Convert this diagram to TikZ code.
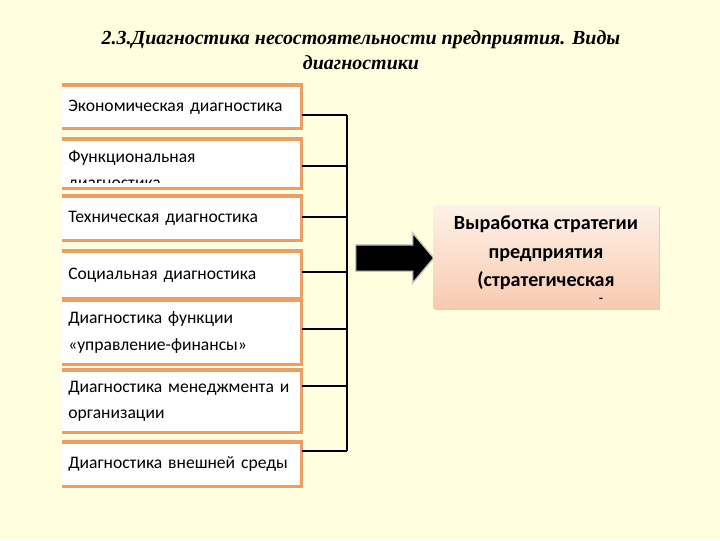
\documentclass[tikz,border=0pt]{standalone}
\usepackage{fontspec}
\setmainfont{Carlito}
\newfontfamily\titlefont{Liberation Serif}
\usetikzlibrary{positioning,shapes.arrows,shadows}

\definecolor{bgcream}{RGB}{255,255,224}
\definecolor{boxorange}{RGB}{238,158,98}
\definecolor{peachtop}{RGB}{253,242,232}
\definecolor{peachbot}{RGB}{249,202,176}

\begin{document}
\begin{tikzpicture}[x=0.025cm,y=-0.025cm,
    kind/.style={fill=white, anchor=north west, minimum width=5.98cm, text width=5.68cm,
      align=left, inner xsep=0.15cm, font=\fontsize{12.5}{19}\selectfont},
    rim/.style={boxorange, line width=2.2pt},
    link/.style={black, line width=0.8pt}]
    \fill[bgcream] (0,0) rectangle (720,540);
    \node[font=\titlefont\bfseries\itshape\fontsize{14.2}{17.5}\selectfont, align=center] (title) at (361,50)
        {2.3.Диагностика несостоятельности предприятия. Виды\\диагностики};

    % kinds of diagnostics
    \node[kind, minimum height=1.075cm] (econ) at (62,85) {Экономическая диагностика};
    \node[kind, minimum height=1.225cm] (func) at (62,139) {};
    \begin{scope}
        \clip (func.north west) rectangle ([yshift=4.3pt]func.south east);
        \node[kind, fill=none, anchor=north west, inner ysep=0.28cm] (functext) at (func.north west)
            {Функциональная\\диагностика};
    \end{scope}
    \node[kind, minimum height=1.1cm] (tech) at (62,196) {Техническая диагностика};
    \node[kind, minimum height=1.175cm] (soc) at (62,251) {Социальная диагностика};
    \node[kind, minimum height=1.6cm] (fin) at (62,300) {Диагностика функции\\«управление-финансы»};
    \node[kind, minimum height=1.55cm] (mgmt) at (62,370) {Диагностика менеджмента и\\организации};
    \node[kind, minimum height=1.1cm] (env) at (62,442) {Диагностика внешней среды};
    \foreach \b in {econ,func,tech,soc,fin,mgmt,env}
        \draw[rim] (\b.north west) -- (\b.north east) -- (\b.south east) -- (\b.south west);

    % bus
    \foreach \b/\y [count=\i] in {econ/115,func/166,tech/217,soc/272,fin/329,mgmt/386,env/451}{
        \coordinate (bus\i) at (347,\y);
        \draw[link] (\b.east |- bus\i) -- (bus\i);
    }
    \draw[link] (bus1) -- (bus7);

    % strategy
    \node[single arrow, fill=black, draw=gray!45, line width=1pt, minimum height=1.95cm,
        inner xsep=0, inner ysep=0.3125cm, single arrow head extend=0.3cm, single arrow tip angle=100,
        anchor=west] (push) at (355,258) {};
    \node[anchor=north west, minimum width=5.625cm, minimum height=2.575cm, top color=peachtop, bottom color=peachbot,
        drop shadow={shadow xshift=1.5pt, shadow yshift=-1.5pt, opacity=0.35}] (plan) at (433,205) {};
    \node[align=center, font=\bfseries\fontsize{14.3}{20.2}\selectfont] (planlines) at (546,253)
        {Выработка стратегии\\предприятия\\(стратегическая};
    \node[font=\bfseries\fontsize{9}{10}\selectfont] (planrest) at (601,300) {-};
\end{tikzpicture}
\end{document}
